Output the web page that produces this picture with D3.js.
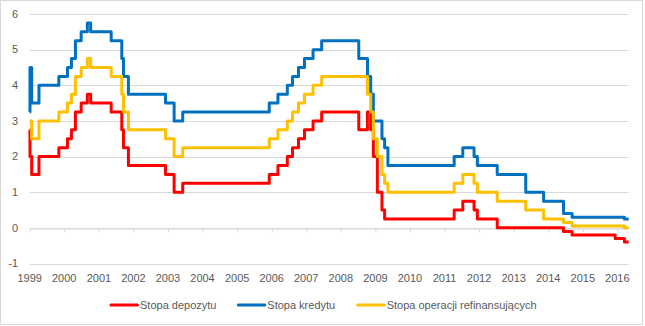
<!DOCTYPE html>
<html>
<head>
<meta charset="utf-8">
<script src="https://cdn.jsdelivr.net/npm/d3@7"></script>
<style>
  body { margin: 0; background: #fff; }
  svg { display: block; font-family: "Liberation Sans", Arial, sans-serif; }
</style>
</head>
<body>
<div id="chart"></div>
<script>
// dates where at least one rate changes (last entry = end of data)
var dates = [
  "1999-01-01", "1999-01-04", "1999-01-22", "1999-04-09", "1999-11-05",
  "2000-02-04", "2000-03-17", "2000-04-28", "2000-06-28", "2000-09-01", "2000-10-06",
  "2001-05-11", "2001-08-31", "2001-09-18", "2001-11-09",
  "2002-12-06", "2003-03-07", "2003-06-06",
  "2005-12-06", "2006-03-08", "2006-06-15", "2006-08-09", "2006-10-11", "2006-12-13",
  "2007-03-14", "2007-06-13", "2008-07-09", "2008-10-08", "2008-10-09", "2008-11-12", "2008-12-10",
  "2009-01-21", "2009-03-11", "2009-04-08", "2009-05-13",
  "2011-04-13", "2011-07-13", "2011-11-09", "2011-12-14", "2012-07-11",
  "2013-05-08", "2013-11-13", "2014-06-11", "2014-09-10", "2015-12-09", "2016-03-16", "2016-04-30"
];

var stopaDepozytu = [
  2.75, 2.0, 1.5, 2.0, 2.25,
  2.5, 2.75, 3.25, 3.5, 3.75, 3.5,
  3.25, 2.75, 2.25, 1.75,
  1.5, 1.0, 1.25,
  1.5, 1.75, 2.0, 2.25, 2.5, 2.75,
  3.0, 3.25, 2.75, 3.25, 3.25, 2.75, 2.0,
  1.0, 0.5, 0.25, 0.25,
  0.5, 0.75, 0.5, 0.25, 0.0,
  0.0, 0.0, -0.1, -0.2, -0.3, -0.4, -0.4
];

var stopaKredytu = [
  3.25, 4.5, 3.5, 4.0, 4.25,
  4.5, 4.75, 5.25, 5.5, 5.75, 5.5,
  5.25, 4.75, 4.25, 3.75,
  3.5, 3.0, 3.25,
  3.5, 3.75, 4.0, 4.25, 4.5, 4.75,
  5.0, 5.25, 4.75, 4.75, 4.25, 3.75, 3.0,
  3.0, 2.5, 2.25, 1.75,
  2.0, 2.25, 2.0, 1.75, 1.5,
  1.0, 0.75, 0.4, 0.3, 0.3, 0.25, 0.25
];

var stopaRefi = [
  3.0, 3.0, 2.5, 3.0, 3.25,
  3.5, 3.75, 4.25, 4.5, 4.75, 4.5,
  4.25, 3.75, 3.25, 2.75,
  2.5, 2.0, 2.25,
  2.5, 2.75, 3.0, 3.25, 3.5, 3.75,
  4.0, 4.25, 4.25, 4.25, 3.75, 3.25, 2.5,
  2.0, 1.5, 1.25, 1.0,
  1.25, 1.5, 1.25, 1.0, 0.75,
  0.5, 0.25, 0.15, 0.05, 0.05, 0.0, 0.0
];

var seriesNames = ["Stopa depozytu", "Stopa kredytu", "Stopa operacji refinansujących"];
var seriesColors = ["#ff0000", "#0070c0", "#ffc000"];
var yTicks = [-1, 0, 1, 2, 3, 4, 5, 6];
var yearTicks = d3.range(1999, 2017);

var width = 645, height = 326;
var parse = d3.timeParse("%Y-%m-%d");
var allSeries = [stopaDepozytu, stopaKredytu, stopaRefi];

var svg = d3.select("#chart").append("svg")
    .attr("width", width)
    .attr("height", height);

// chart area border
svg.append("rect")
    .attr("x", 0.5).attr("y", 0.5)
    .attr("width", 642).attr("height", 324)
    .attr("fill", "#fff")
    .attr("stroke", "#d9d9d9");

var x = d3.scaleTime()
    .domain([parse(dates[0]), parse(dates[dates.length - 1])])
    .range([29.7, 628.7]);

var y = d3.scaleLinear()
    .domain([-1, 6])
    .range([263.5, 14]);

// gridlines
svg.append("g").selectAll("line")
    .data(yTicks)
    .enter().append("line")
    .attr("x1", x.range()[0])
    .attr("x2", x.range()[1])
    .attr("y1", function(d) { return Math.round(y(d)) + 0.5; })
    .attr("y2", function(d) { return Math.round(y(d)) + 0.5; })
    .attr("stroke", "#d9d9d9")
    .attr("stroke-width", 1);

// y labels
svg.append("g").selectAll("text")
    .data(yTicks)
    .enter().append("text")
    .attr("x", 18)
    .attr("y", function(d) { return y(d); })
    .attr("dy", "0.35em")
    .attr("text-anchor", "end")
    .attr("font-size", 11)
    .attr("fill", "#595959")
    .text(function(d) { return d; });

// x axis at zero with tick marks
var xAxis = d3.axisBottom(x)
    .tickValues(yearTicks.map(function(yr) { return new Date(yr, 0, 1); }))
    .tickFormat(d3.timeFormat("%Y"))
    .tickSize(4)
    .tickSizeOuter(0);

var gx = svg.append("g")
    .attr("transform", "translate(0," + (Math.round(y(0)) + 0.5) + ")")
    .call(xAxis);
gx.select(".domain").attr("stroke", "#d9d9d9");
gx.selectAll(".tick line").attr("stroke", "#d9d9d9");
gx.selectAll(".tick text").remove();

// x labels below the plot
svg.append("g").selectAll("text")
    .data(yearTicks)
    .enter().append("text")
    .attr("x", function(d) { return x(new Date(d, 0, 1)); })
    .attr("y", 281.5)
    .attr("text-anchor", "middle")
    .attr("font-size", 11)
    .attr("fill", "#595959")
    .text(function(d) { return d; });

var line = d3.line()
    .curve(d3.curveStepAfter)
    .x(function(d) { return x(d.date); })
    .y(function(d) { return y(d.value); });

allSeries.forEach(function(values, i) {
    var pts = dates.map(function(dt, j) { return { date: parse(dt), value: values[j] }; });
    svg.append("path")
        .datum(pts)
        .attr("d", line)
        .attr("fill", "none")
        .attr("stroke", seriesColors[i])
        .attr("stroke-width", 3)
        .attr("stroke-linejoin", "round");
});

// legend
var legendX = [111, 238.3, 357.7];
var legend = svg.append("g").selectAll("g")
    .data(seriesNames)
    .enter().append("g")
    .attr("transform", function(d, i) { return "translate(" + legendX[i] + ",305)"; });

legend.append("line")
    .attr("x1", 0).attr("x2", 26.5)
    .attr("stroke", function(d, i) { return seriesColors[i]; })
    .attr("stroke-width", 3)
    .attr("stroke-linecap", "round");

legend.append("text")
    .attr("x", 29)
    .attr("dy", "0.35em")
    .attr("font-size", 11)
    .attr("fill", "#595959")
    .text(function(d) { return d; });
</script>
</body>
</html>
